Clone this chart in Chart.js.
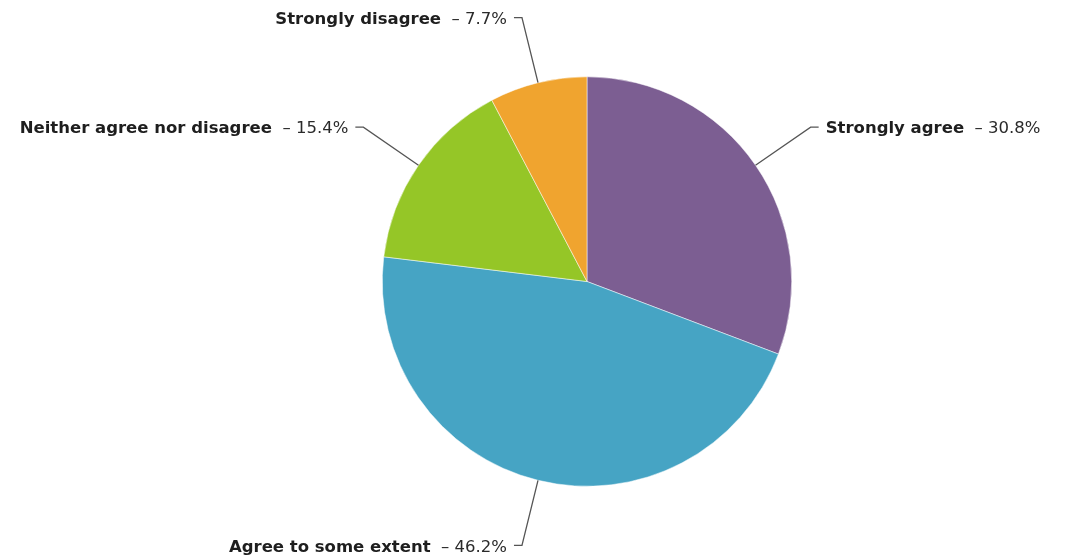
<!DOCTYPE html>
<html>
<head>
<meta charset="utf-8">
<script src="https://cdn.jsdelivr.net/npm/chart.js@4/dist/chart.umd.min.js"></script>
<style>
  html, body { margin: 0; padding: 0; background: #ffffff; }
  #wrap { width: 1066px; height: 558px; position: relative; }
</style>
</head>
<body>
<div id="wrap"><canvas id="c" width="1066" height="558"></canvas></div>
<script>
const categories = ["Strongly agree", "Agree to some extent", "Neither agree nor disagree", "Strongly disagree"];
const percentValues = [30.8, 46.2, 15.4, 7.7];
const sliceColors = ["#7C5E92", "#46A4C4", "#95C627", "#F0A42F"];

const FONT_FAMILY = '"DejaVu Sans", Verdana, sans-serif';
const FONT_SIZE = 16.5;

const leaderLabels = {
  id: 'leaderLabels',
  afterDatasetsDraw(chart) {
    const ctx = chart.ctx;
    const meta = chart.getDatasetMeta(0);
    const ds = chart.data.datasets[0];
    ctx.save();
    meta.data.forEach((arc, i) => {
      const p = arc.getProps(['x', 'y', 'startAngle', 'endAngle', 'outerRadius'], true);
      const mid = (p.startAngle + p.endAngle) / 2;
      const cos = Math.cos(mid), sin = Math.sin(mid);
      const R = p.outerRadius;
      const ex = p.x + cos * R, ey = p.y + sin * R;
      const bx = p.x + cos * (R + 67), by = p.y + sin * (R + 67);
      const dir = cos >= 0 ? 1 : -1;
      const hx = bx + dir * 8;
      ctx.strokeStyle = '#555555';
      ctx.lineWidth = 1.3;
      ctx.beginPath();
      ctx.moveTo(ex, ey);
      ctx.lineTo(bx, by);
      ctx.lineTo(hx, by);
      ctx.stroke();

      const name = chart.data.labels[i];
      const rest = '  \u2013 ' + ds.data[i].toFixed(1) + '%';
      ctx.textBaseline = 'middle';
      ctx.textAlign = 'left';
      ctx.font = 'bold ' + FONT_SIZE + 'px ' + FONT_FAMILY;
      const wName = ctx.measureText(name).width;
      ctx.font = FONT_SIZE + 'px ' + FONT_FAMILY;
      const wRest = ctx.measureText(rest).width;
      const total = wName + wRest;
      const tx = dir > 0 ? hx + 7 : hx - 7 - total;
      const ty = by + 2;
      ctx.fillStyle = '#1e1e1e';
      ctx.font = 'bold ' + FONT_SIZE + 'px ' + FONT_FAMILY;
      ctx.fillText(name, tx, ty);
      ctx.font = FONT_SIZE + 'px ' + FONT_FAMILY;
      ctx.fillStyle = '#2a2a2a';
      ctx.fillText(rest, tx + wName, ty);
    });
    ctx.restore();
  }
};

new Chart(document.getElementById('c'), {
  type: 'pie',
  data: {
    labels: categories,
    datasets: [{
      data: percentValues,
      backgroundColor: sliceColors,
      borderColor: '#ffffff',
      borderWidth: 0.5
    }]
  },
  options: {
    responsive: false,
    animation: false,
    layout: { padding: { top: 76, bottom: 71, left: 382, right: 274 } },
    plugins: {
      legend: { display: false },
      tooltip: { enabled: false }
    }
  },
  plugins: [leaderLabels]
});
</script>
</body>
</html>
